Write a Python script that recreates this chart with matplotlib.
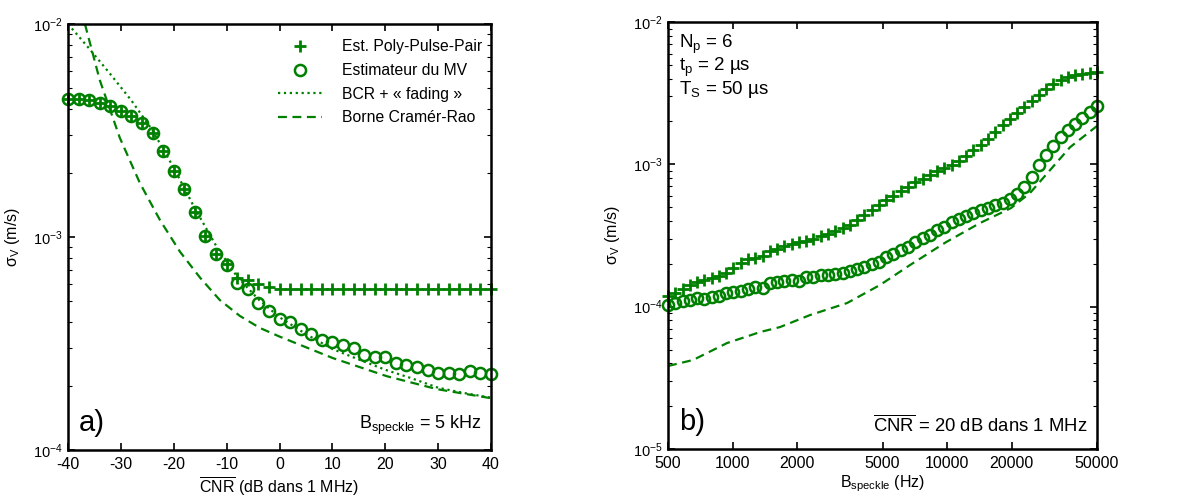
import numpy as np
import matplotlib
matplotlib.use('Agg')
import matplotlib.pyplot as plt
from matplotlib.ticker import LogLocator, FixedLocator, FixedFormatter, NullLocator

plt.rcParams['font.family'] = ['Liberation Sans', 'DejaVu Sans']
plt.rcParams['mathtext.fontset'] = 'custom'
plt.rcParams['mathtext.rm'] = 'Liberation Sans'
plt.rcParams['mathtext.it'] = 'Liberation Sans'
plt.rcParams['mathtext.bf'] = 'Liberation Sans:bold'
plt.rcParams['axes.unicode_minus'] = False

GREEN = '#008000'

# ---- panel a) : sigma_V vs CNR, B_speckle = 5 kHz
cnr = np.arange(-40, 41, 2)
mv_a = [4.45e-3, 4.45e-3, 4.40e-3, 4.25e-3, 4.12e-3, 3.90e-3, 3.70e-3, 3.43e-3,
        3.08e-3, 2.54e-3, 2.04e-3, 1.68e-3, 1.31e-3, 1.01e-3, 8.3e-4, 7.4e-4,
        6.1e-4, 5.7e-4, 4.9e-4, 4.5e-4, 4.12e-4, 3.98e-4, 3.69e-4, 3.49e-4,
        3.28e-4, 3.20e-4, 3.11e-4, 3.00e-4, 2.79e-4, 2.74e-4, 2.72e-4, 2.57e-4,
        2.51e-4, 2.45e-4, 2.38e-4, 2.29e-4, 2.29e-4, 2.27e-4, 2.36e-4, 2.29e-4,
        2.27e-4]
ppp_a = [4.45e-3, 4.45e-3, 4.40e-3, 4.25e-3, 4.12e-3, 3.90e-3, 3.70e-3, 3.43e-3,
         3.08e-3, 2.54e-3, 2.04e-3, 1.68e-3, 1.31e-3, 1.01e-3, 8.3e-4, 7.5e-4,
         6.4e-4, 6.3e-4, 6.0e-4, 5.8e-4, 5.7e-4, 5.7e-4, 5.7e-4, 5.7e-4,
         5.7e-4, 5.7e-4, 5.7e-4, 5.7e-4, 5.7e-4, 5.7e-4, 5.7e-4, 5.7e-4,
         5.7e-4, 5.7e-4, 5.7e-4, 5.7e-4, 5.7e-4, 5.7e-4, 5.7e-4, 5.7e-4,
         5.7e-4]
fad_x = [-40, -36, -32, -28, -24, -20, -16, -12, -8, -4, 0, 5, 10, 15, 20, 25, 30, 35, 40]
fad_a = [1.0e-2, 7.67e-3, 5.82e-3, 4.37e-3, 3.16e-3, 2.11e-3, 1.36e-3, 9.1e-4,
         6.5e-4, 5.1e-4, 4.2e-4, 3.5e-4, 2.98e-4, 2.66e-4, 2.38e-4, 2.17e-4,
         1.96e-4, 1.85e-4, 1.76e-4]
crb_x = [-36.8, -34, -30.2, -26.4, -22.6, -18.8, -15, -11.3, -7.5, -3.7, 0.1,
         10.1, 20.3, 29.8, 40]
crb_a = [1.0e-2, 5.46e-3, 2.92e-3, 1.79e-3, 1.20e-3, 8.51e-4, 6.43e-4, 5.06e-4,
         4.26e-4, 3.74e-4, 3.40e-4, 2.70e-4, 2.22e-4, 1.93e-4, 1.75e-4]

# ---- panel b) : sigma_V vs B_speckle, CNR = 20 dB
bsp = np.geomspace(500, 50000, 60)
mv_b = [1.03e-4, 1.06e-4, 1.09e-4, 1.11e-4, 1.15e-4, 1.13e-4, 1.17e-4, 1.19e-4,
        1.25e-4, 1.27e-4, 1.29e-4, 1.33e-4, 1.37e-4, 1.36e-4, 1.47e-4, 1.48e-4,
        1.51e-4, 1.54e-4, 1.51e-4, 1.61e-4, 1.61e-4, 1.67e-4, 1.66e-4, 1.69e-4,
        1.72e-4, 1.77e-4, 1.84e-4, 1.90e-4, 1.99e-4, 2.06e-4, 2.23e-4, 2.35e-4,
        2.50e-4, 2.63e-4, 2.84e-4, 3.04e-4, 3.18e-4, 3.45e-4, 3.63e-4, 3.93e-4,
        4.13e-4, 4.33e-4, 4.55e-4, 4.77e-4, 4.93e-4, 5.18e-4, 5.36e-4, 5.70e-4,
        6.17e-4, 6.9e-4, 8.15e-4, 9.9e-4, 1.16e-3, 1.34e-3, 1.56e-3, 1.74e-3,
        1.92e-3, 2.11e-3, 2.33e-3, 2.57e-3]
ppp_b = [1.19e-4, 1.25e-4, 1.33e-4, 1.41e-4, 1.49e-4, 1.54e-4, 1.59e-4, 1.64e-4,
         1.72e-4, 1.86e-4, 2.02e-4, 2.16e-4, 2.19e-4, 2.27e-4, 2.46e-4, 2.54e-4,
         2.66e-4, 2.75e-4, 2.84e-4, 2.89e-4, 2.98e-4, 3.13e-4, 3.23e-4, 3.39e-4,
         3.56e-4, 3.74e-4, 4.05e-4, 4.40e-4, 4.77e-4, 5.17e-4, 5.61e-4, 5.99e-4,
         6.5e-4, 6.9e-4, 7.5e-4, 7.9e-4, 8.4e-4, 8.97e-4, 9.4e-4, 9.9e-4,
         1.05e-3, 1.14e-3, 1.26e-3, 1.37e-3, 1.50e-3, 1.69e-3, 1.89e-3, 2.08e-3,
         2.29e-3, 2.53e-3, 2.79e-3, 3.07e-3, 3.38e-3, 3.67e-3, 3.91e-3, 4.11e-3,
         4.24e-3, 4.31e-3, 4.38e-3, 4.45e-3]
crb_bx = [500, 654, 942, 1343, 1664, 2296, 3415, 4867, 6712, 9886, 14245, 19860,
          24350, 30180, 37440, 50000]
crb_b = [3.83e-5, 4.22e-5, 5.55e-5, 6.63e-5, 7.19e-5, 8.73e-5, 1.06e-4, 1.42e-4,
         1.96e-4, 2.84e-4, 3.87e-4, 4.93e-4, 6.29e-4, 9.1e-4, 1.32e-3, 1.86e-3]

b_ticks = [500, 1000, 2000, 5000, 10000, 20000, 50000]

fig = plt.figure(figsize=(11.91, 4.99), dpi=100)
ax1 = fig.add_axes([0.0571, 0.0982, 0.3552, 0.8537])
ax2 = fig.add_axes([0.5609, 0.1002, 0.3602, 0.8557])

mk = dict(color=GREEN, linestyle='none', clip_on=False)

# left panel
ax1.plot(cnr, mv_a, marker='o', ms=8, mew=1.8, mfc='none', label='Estimateur du MV', **mk)
ax1.plot(cnr, ppp_a, marker='+', ms=9, mew=2, label='Est. Poly-Pulse-Pair', **mk)
ax1.plot(fad_x, fad_a, color=GREEN, ls=':', lw=1.6, label='BCR + « fading »')
ax1.plot(crb_x, crb_a, color=GREEN, ls=(0, (4, 2.5)), lw=1.6, label='Borne Cramér-Rao')
ax1.set_yscale('log')
ax1.set_xlim(-40, 40)
ax1.set_ylim(1e-4, 1e-2)
ax1.set_xticks(np.arange(-40, 41, 10))
ax1.set_xlabel(r'$\overline{\mathrm{CNR}}$ (dB dans 1 MHz)', fontsize=11.5, labelpad=2)
ax1.set_ylabel(r'$\mathrm{\sigma_V}$ (m/s)', fontsize=11.5, labelpad=8)
h, l = ax1.get_legend_handles_labels()
order = [1, 0, 2, 3]
ax1.legend([h[i] for i in order], [l[i] for i in order], loc='upper right',
           bbox_to_anchor=(1.0, 0.984), frameon=False, fontsize=11.3,
           handlelength=2.8, handletextpad=1.3, labelspacing=0.55,
           borderaxespad=0.25, borderpad=0.3)
ax1.text(0.025, 0.03, 'a)', transform=ax1.transAxes, fontsize=21, ha='left', va='bottom')
ax1.text(0.978, 0.03, r'B$_{\mathrm{speckle}}$ = 5 kHz', transform=ax1.transAxes,
         fontsize=13, ha='right', va='bottom')

# right panel
ax2.plot(bsp, mv_b, marker='o', ms=8, mew=1.8, mfc='none', **mk)
ax2.plot(bsp, ppp_b, marker='+', ms=9, mew=2, **mk)
ax2.plot(crb_bx, crb_b, color=GREEN, ls=(0, (4, 2.5)), lw=1.6)
ax2.set_xscale('log')
ax2.set_yscale('log')
ax2.set_xlim(500, 50000)
ax2.set_ylim(1e-5, 1e-2)
ax2.xaxis.set_major_locator(FixedLocator(b_ticks))
ax2.xaxis.set_major_formatter(FixedFormatter([str(t) for t in b_ticks]))
ax2.xaxis.set_minor_locator(NullLocator())
ax2.set_xlabel(r'B$_{\mathrm{speckle}}$ (Hz)', fontsize=11.5, labelpad=2)
ax2.set_ylabel(r'$\mathrm{\sigma_V}$ (m/s)', fontsize=11.5, labelpad=8)
ax2.text(0.025, 0.975, 'N$_\\mathrm{p}$ = 6\nt$_\\mathrm{p}$ = 2 µs\nT$_\\mathrm{S}$ = 50 µs',
         transform=ax2.transAxes, fontsize=13.5, ha='left', va='top', linespacing=1.0)
ax2.text(0.025, 0.03, 'b)', transform=ax2.transAxes, fontsize=21, ha='left', va='bottom')
ax2.text(0.978, 0.03, r'$\overline{\mathrm{CNR}}$ = 20 dB dans 1 MHz', transform=ax2.transAxes,
         fontsize=13.3, ha='right', va='bottom')

for ax in (ax1, ax2):
    ax.yaxis.set_minor_locator(LogLocator(base=10, subs=np.arange(2, 10)))
    ax.tick_params(which='both', direction='in', top=True, right=True, labelsize=11.5)
    ax.tick_params(axis='y', labelsize=10.5, pad=4)
    ax.tick_params(which='major', length=5, width=1.2)
    ax.tick_params(which='minor', length=3, width=0.8)
    ax.tick_params(axis='x', pad=5)
    for s in ax.spines.values():
        s.set_linewidth(1.8)

plt.savefig('out.png', dpi=100)
